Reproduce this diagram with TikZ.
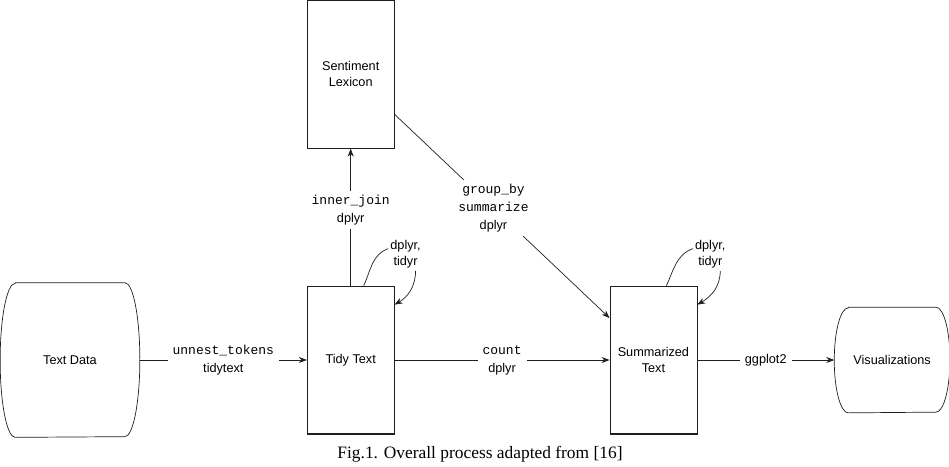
\documentclass[tikz,border=0pt]{standalone}
\usepackage{fontspec}
\setmainfont{Liberation Serif}
\setsansfont{Liberation Sans}
\setmonofont{Liberation Mono}
\usetikzlibrary{arrows.meta,positioning,calc}
\definecolor{ink}{gray}{0.12}
\newcommand{\fn}[1]{{\ttfamily\fontsize{13}{18}\selectfont #1}}
\newcommand{\pillline}[3]{%
  \draw[ln] ([xshift=#2]#1.north west) -- ([xshift=-#2]#1.north east)
    arc[start angle=90,end angle=-90,x radius=#2,y radius=#3]
    -- ([xshift=#2]#1.south west)
    arc[start angle=270,end angle=90,x radius=#2,y radius=#3] -- cycle;}

\begin{document}
\begin{tikzpicture}[x=1pt,y=1pt,
  box/.style={draw=ink,line width=0.7pt,minimum width=87pt,minimum height=148pt,align=center,inner sep=2pt,font=\sffamily\fontsize{12.7}{16}\selectfont},
  pill/.style={box,draw=none},
  lab/.style={fill=white,align=center,inner xsep=5pt,inner ysep=4pt,font=\sffamily\fontsize{12.7}{18}\selectfont},
  op/.style={align=center,inner sep=2pt,font=\sffamily\fontsize{12.7}{16}\selectfont},
  ar/.style={draw=ink,line width=0.7pt,-{Stealth[length=8pt,width=6pt]}},
  ln/.style={draw=ink,line width=0.7pt},
  base/.style={draw=ink,line width=1.8pt}
]
\useasboundingbox (0,0) rectangle (949,-466);
\node[pill,minimum width=139pt,minimum height=154pt] (data) at (70,-360) {Text Data};
\node[box,right=167pt of data] (tidy) {Tidy Text};
\node[box,above=137pt of tidy] (lex) {Sentiment\\Lexicon};
\node[box,right=215pt of tidy] (summ) {Summarized\\Text};
\node[pill,right=137pt of summ,minimum width=115pt,minimum height=105pt] (vis) {Visualizations};
\pillline{data}{15pt}{77pt}
\pillline{vis}{14pt}{52.5pt}
\draw[base] (tidy.south west) -- (tidy.south east);
\draw[base] (summ.south west) -- (summ.south east);
\draw[base] (lex.north west) -- (lex.north east);
\draw[ar] (data) -- node[lab] {\fn{unnest\_tokens}\\tidytext} (tidy);
\draw[ar] (tidy) -- node[lab] {\fn{count}\\dplyr} (summ);
\draw[ar] (summ) -- node[lab] {ggplot2} (vis);
\draw[ar] (tidy) -- node[lab,pos=0.55] {\fn{inner\_join}\\dplyr} (lex);
\draw[ar] ([yshift=-40pt]lex.east) -- node[lab,pos=0.46] {\fn{group\_by}\\\fn{summarize}\\dplyr} ([yshift=42pt]summ.west);
\node[op] (tidyop) at ([xshift=11pt,yshift=31pt]tidy.north east) {dplyr,\\tidyr};
\draw[ln] ([xshift=13pt]tidy.north) to[out=65,in=200] ([yshift=6pt]tidyop.west);
\draw[ar] ([xshift=10pt]tidyop.south) to[out=-90,in=30] ([yshift=-19pt]tidy.north east);
\node[op] (summop) at ([xshift=13pt,yshift=31pt]summ.north east) {dplyr,\\tidyr};
\draw[ln] ([xshift=13pt]summ.north) to[out=65,in=200] ([yshift=6pt]summop.west);
\draw[ar] ([xshift=10pt]summop.south) to[out=-90,in=30] ([yshift=-19pt]summ.north east);
\node[font=\fontsize{17.4}{20}\selectfont,anchor=base] (cap) at (480,-458) {Fig.1. Overall process adapted from [16]};
\end{tikzpicture}
\end{document}
